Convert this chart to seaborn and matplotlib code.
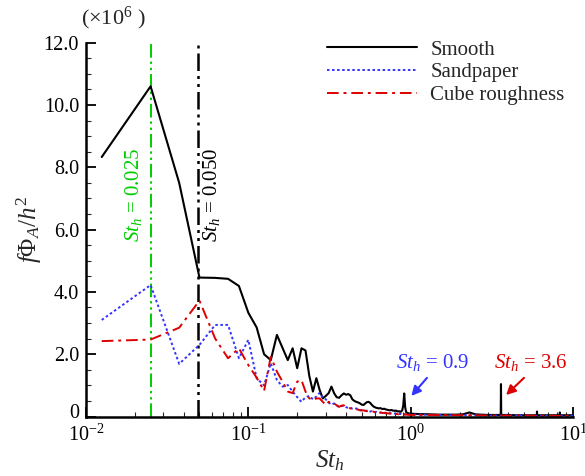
import numpy as np
import pandas as pd
import matplotlib
matplotlib.use("Agg")
import matplotlib.pyplot as plt
import matplotlib.transforms as mtransforms
from matplotlib.ticker import LogLocator, NullFormatter
import seaborn as sns

# ---------------- data ----------------
# fine frequency grid (uniform spacing 0.0125) up to St_h = 1.0
st_fine = np.arange(1, 81) * 0.0125

smooth_fine = [8.33, 10.6, 7.5, 4.46, 4.45, 4.42, 4.19, 3.33, 2.86, 2.0,
               1.81, 2.62, 2.2, 1.81, 2.19, 1.55, 2.19, 2.12, 1.3, 0.8,
               1.23, 0.85, 0.58, 0.66, 0.75, 0.96, 0.75, 0.62, 0.6, 0.68,
               0.74, 0.70, 0.72, 0.68, 0.55, 0.5, 0.47, 0.45, 0.42, 0.38,
               0.37, 0.42, 0.46, 0.47, 0.44, 0.38, 0.33, 0.3, 0.28, 0.27,
               0.26, 0.27, 0.25, 0.24, 0.25, 0.23, 0.22, 0.21, 0.2, 0.2,
               0.21, 0.19, 0.19, 0.18, 0.19, 0.17, 0.16, 0.17, 0.15, 0.16,
               0.2, 0.35, 0.74, 0.3, 0.14, 0.12, 0.11, 0.1, 0.09, 0.09]

sand_fine = [3.10, 4.22, 1.69, 2.30, 2.94, 2.94, 1.87, 2.46, 1.23, 1.0,
             1.71, 1.17, 0.96, 1.01, 0.80, 0.62, 0.47, 0.62, 0.66, 0.55,
             0.64, 0.76, 0.6, 0.55, 0.45, 0.38, 0.42, 0.36, 0.3, 0.33,
             0.35, 0.3, 0.27, 0.28, 0.25, 0.24, 0.26, 0.22, 0.2, 0.21,
             0.2, 0.18, 0.19, 0.17, 0.16, 0.17, 0.15, 0.14, 0.15, 0.13,
             0.13, 0.12, 0.13, 0.12, 0.11, 0.12, 0.11, 0.1, 0.11, 0.1,
             0.1, 0.09, 0.1, 0.09, 0.09, 0.08, 0.09, 0.08, 0.08, 0.08,
             0.07, 0.08, 0.07, 0.07, 0.07, 0.06, 0.07, 0.06, 0.06, 0.06]

cube_fine = [2.42, 2.47, 2.85, 3.72, 2.5, 1.87, 2.19, 1.65, 1.25, 0.82,
             1.92, 1.44, 1.12, 0.80, 0.75, 1.12, 1.17, 0.80, 0.58, 0.53,
             0.58, 0.58, 0.47, 0.37, 0.47, 0.45, 0.42, 0.36, 0.31, 0.35,
             0.36, 0.3, 0.28, 0.26, 0.27, 0.25, 0.23, 0.22, 0.2, 0.19,
             0.2, 0.18, 0.17, 0.18, 0.16, 0.15, 0.16, 0.14, 0.13, 0.14,
             0.12, 0.13, 0.12, 0.11, 0.12, 0.1, 0.11, 0.1, 0.09, 0.1,
             0.09, 0.09, 0.08, 0.09, 0.08, 0.08, 0.07, 0.08, 0.07, 0.07,
             0.07, 0.06, 0.07, 0.06, 0.06, 0.06, 0.05, 0.06, 0.05, 0.05]

smooth_tail_st = [1.1, 1.3, 1.5, 1.7, 1.9, 2.1, 2.2, 2.3, 2.4, 2.5, 2.7, 3.0,
                  3.3, 3.5875, 3.6, 3.6125, 4.0, 4.5, 5.0, 5.5, 5.9875, 6.0,
                  6.0125, 6.5, 7.0, 7.5, 8.0, 8.2875, 8.3, 8.3125, 9.0, 10.0]
smooth_tail = [0.08, 0.07, 0.06, 0.06, 0.06, 0.07, 0.1, 0.13, 0.1, 0.07, 0.06,
               0.05, 0.05, 0.05, 1.04, 0.05, 0.05, 0.04, 0.04, 0.04, 0.04,
               0.16, 0.04, 0.04, 0.04, 0.04, 0.04, 0.04, 0.13, 0.04, 0.04, 0.04]

rough_tail_st = [1.2, 1.5, 2.0, 2.5, 3.0, 4.0, 5.0, 6.0, 8.0, 10.0]
sand_tail = [0.06, 0.05, 0.04, 0.04, 0.03, 0.03, 0.03, 0.02, 0.02, 0.02]
cube_tail = [0.05, 0.05, 0.04, 0.04, 0.03, 0.03, 0.03, 0.02, 0.02, 0.02]

series_names = ["Smooth", "Sandpaper", "Cube roughness"]
y_ticks = [0, 2, 4, 6, 8, 10, 12]
y_ticklabels = ["0", "2.0", "4.0", "6.0", "8.0", "10.0", "12.0"]
x_ticks = [0.01, 0.1, 1, 10]
x_ticklabels = [r"$10^{-2}$", r"$10^{-1}$", r"$10^{0}$", r"$10^{1}$"]

# ---------------- table ----------------
frames = []
for name, fine, tst, tail in [
        ("Smooth", smooth_fine, smooth_tail_st, smooth_tail),
        ("Sandpaper", sand_fine, rough_tail_st, sand_tail),
        ("Cube roughness", cube_fine, rough_tail_st, cube_tail)]:
    st = list(st_fine) + list(tst)
    val = list(fine) + list(tail)
    frames.append(pd.DataFrame({"St": st, "val": val, "case": name}))
df = pd.concat(frames, ignore_index=True)

# ---------------- style ----------------
sns.set_theme(style="ticks")
plt.rcParams["font.family"] = ["Liberation Serif", "DejaVu Serif"]
plt.rcParams["mathtext.fontset"] = "custom"
plt.rcParams["mathtext.rm"] = "Liberation Serif"
plt.rcParams["mathtext.it"] = "Liberation Serif:italic"
plt.rcParams["mathtext.bf"] = "Liberation Serif:bold"

fig = plt.figure(figsize=(5.85, 4.76), dpi=100)
ax = fig.add_axes([86 / 585, 1 - 416.5 / 476, (573 - 86) / 585, (416.5 - 42.7) / 476])

colors = {"Smooth": "black", "Sandpaper": "#3333ff", "Cube roughness": "#dd0000"}
styles = {"Smooth": "-", "Sandpaper": (0, (1.3, 1.3)), "Cube roughness": (0, (6, 2.5, 1.5, 2.5))}
widths = {"Smooth": 1.5, "Sandpaper": 1.4, "Cube roughness": 1.4}

for name in series_names:
    sub = df[df["case"] == name]
    sns.lineplot(data=sub, x="St", y="val", ax=ax, color=colors[name],
                 linestyle=styles[name], lw=widths[name], label=name,
                 estimator=None, sort=False)

# vertical reference lines
ax.axvline(0.025, color="#00cc00", lw=1.4, linestyle=(0, (7, 2, 1.2, 2, 1.2, 2)), zorder=1)
ax.axvline(0.049, color="black", lw=1.8, linestyle=(0, (7, 2, 1.2, 2, 1.2, 2)), zorder=1)

ax.set_xscale("log")
ax.set_xlim(0.01, 10)
ax.set_ylim(0, 12)
ax.set_xticks(x_ticks)
ax.set_xticklabels(x_ticklabels)
ax.xaxis.set_minor_locator(LogLocator(base=10, subs=np.arange(2, 10), numticks=20))
ax.xaxis.set_minor_formatter(NullFormatter())
ax.set_yticks(y_ticks)
ax.set_yticklabels(y_ticklabels)
ax.set_yticks(np.arange(0, 12.01, 0.5), minor=True)
ax.tick_params(axis="both", which="major", direction="in", length=7, width=1.3,
               labelsize=14.5, colors="black")
ax.tick_params(axis="both", which="minor", direction="in", length=3.5, width=0.8,
               bottom=True, left=True)
ax.tick_params(axis="x", which="major", pad=6)
ax.tick_params(axis="y", which="major", pad=5)
for s in ["top", "right"]:
    ax.spines[s].set_visible(False)
for s in ["left", "bottom"]:
    ax.spines[s].set_linewidth(1.8)
    ax.spines[s].set_color("black")

# lift the "0" label a little so it clears the 10^-2 label
zero_lbl = ax.get_yticklabels()[0]
zero_lbl.set_transform(zero_lbl.get_transform() +
                       mtransforms.ScaledTranslation(0, 4 / 72, fig.dpi_scale_trans))

ax.set_xlabel(r"$St_h$", fontsize=18, labelpad=2)
ax.set_ylabel(r"$f\mathit{\Phi}_A/h^2$", fontsize=18)
ax.yaxis.set_label_coords(-42 / 487, 0.5)

fig.text(113 / 585, 1 - 18 / 476, r"($\times$10$^6$ )", ha="center", va="center", fontsize=16)

# annotations
ax.text(0.0195, 7.11, r"$St_h$ = 0.025", rotation=90, color="#00cc00",
        ha="center", va="center", fontsize=15)
ax.text(0.0595, 7.11, r"$St_h$ = 0.050", rotation=90, color="black",
        ha="center", va="center", fontsize=15)

ax.text(1.36, 1.72, r"$St_h$ = 0.9", color="#3333ff", ha="center", va="center", fontsize=15)
ax.annotate("", xy=(1.01, 0.66), xytext=(1.26, 1.24),
            arrowprops=dict(arrowstyle="-|>", color="#3333ff", lw=1.5,
                            mutation_scale=14, shrinkA=0, shrinkB=0))
ax.text(5.5, 1.72, r"$St_h$ = 3.6", color="#dd0000", ha="center", va="center", fontsize=15)
ax.annotate("", xy=(3.87, 0.69), xytext=(4.99, 1.24),
            arrowprops=dict(arrowstyle="-|>", color="#dd0000", lw=1.5,
                            mutation_scale=14, shrinkA=0, shrinkB=0))

leg = ax.legend(loc="upper left", bbox_to_anchor=(327 / 585, 1 - 40 / 476),
                bbox_transform=fig.transFigure, frameon=False, fontsize=15,
                handlelength=4.3, handletextpad=0.65, labelspacing=0.15,
                borderpad=0, borderaxespad=0)

fig.savefig("out.png", dpi=100)
